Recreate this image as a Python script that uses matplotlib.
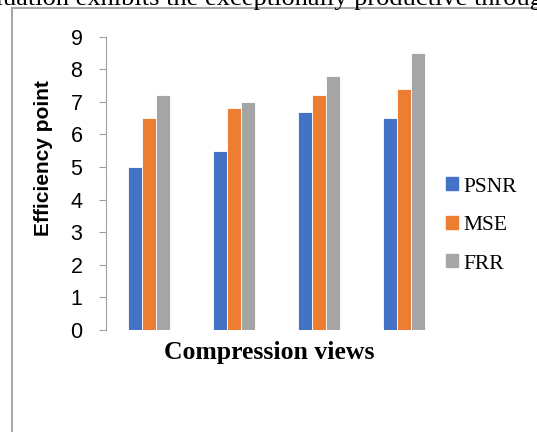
import matplotlib.pyplot as plt
import numpy as np
from matplotlib.lines import Line2D
from matplotlib.patches import Patch

views = ['1', '2', '3', '4']
series = ['PSNR', 'MSE', 'FRR']
psnr = [5.0, 5.5, 6.7, 6.5]
mse = [6.5, 6.8, 7.2, 7.4]
frr = [7.2, 7.0, 7.8, 8.5]
colors = ['#4472C4', '#ED7D31', '#A5A5A5']
y_ticks = list(range(0, 10))

fig = plt.figure(figsize=(5.37, 4.32), dpi=100)
ax = fig.add_axes([0.1974, 0.2361, 0.635, 0.679])

x = np.arange(len(views))
w = 0.165
for i, vals in enumerate([psnr, mse, frr]):
    ax.bar(x + (i - 1) * w, vals, w, color=colors[i], edgecolor='white', linewidth=0.6)

ax.set_xlim(-0.5, len(views) - 0.5)
ax.set_ylim(0, 9)
ax.set_yticks(y_ticks)
ax.set_yticklabels([str(t) for t in y_ticks], fontfamily='Liberation Sans', fontsize=15.5)
ax.set_xticks([])
for s in ['top', 'right', 'bottom']:
    ax.spines[s].set_visible(False)
ax.spines['left'].set_color('#A0A0A0')
ax.tick_params(axis='y', length=5, color='#A0A0A0', pad=12)

ax.set_ylabel('Efficiency point', fontfamily='Liberation Sans', fontweight='bold', fontsize=15)
ax.yaxis.set_label_coords(-0.156, 0.586)
ax.set_xlabel('Compression views', fontfamily='Liberation Serif', fontweight='bold', fontsize=18.5)
ax.xaxis.set_label_coords(0.478, -0.036)
ax.xaxis.label.set_va('top')

handles = [Patch(color=c) for c in colors]
fig.legend(handles, series, loc='center left', bbox_to_anchor=(0.795, 0.478), frameon=False,
           prop={'family': 'Liberation Serif', 'size': 15.5}, handlelength=0.55, handleheight=0.55,
           handletextpad=0.25, labelspacing=0.9)

# frame of the document box
fig.add_artist(Line2D([0.0223, 0.0223], [0, 0.981], color='#A8A8A8', linewidth=1.5))
fig.add_artist(Line2D([0.0223, 1.0], [0.981, 0.981], color='#A8A8A8', linewidth=1.5))
fig.text(-0.03, 0.989, 'aluation exhibits the exceptionally productive through',
         fontfamily='Liberation Serif', fontsize=19, va='baseline')

fig.savefig('out.png', dpi=100)
